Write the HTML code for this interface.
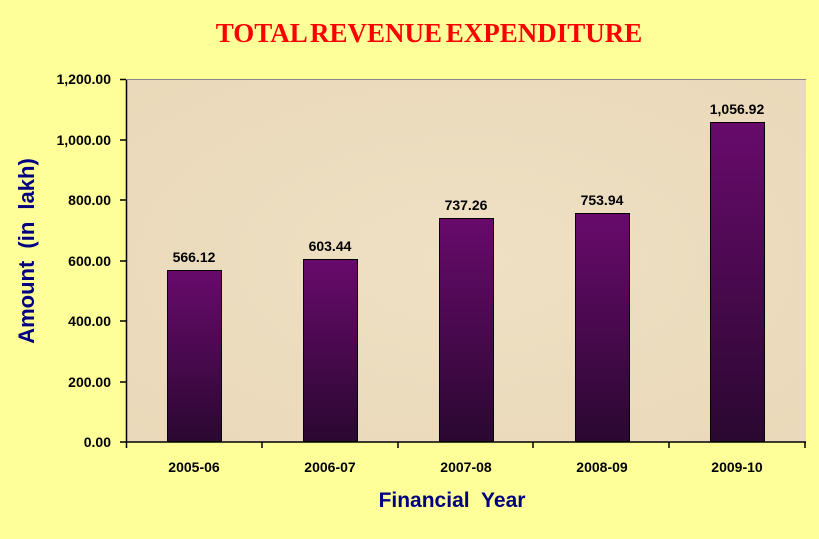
<!DOCTYPE html>
<html><head><meta charset="utf-8"><style>
body{margin:0;background:#ffff99;}
</style></head><body>
<svg width="819" height="539" xmlns="http://www.w3.org/2000/svg" style="display:block">
<defs>
<linearGradient id="g" x1="0" y1="0" x2="0" y2="1">
<stop offset="0" stop-color="#680a6c"/><stop offset="1" stop-color="#2a0830"/>
</linearGradient>
<radialGradient id="p" cx="0.5" cy="0.5" r="0.8">
<stop offset="0" stop-color="#efe0c4"/><stop offset="1" stop-color="#e9d8b8"/>
</radialGradient>
</defs>
<rect width="819" height="539" fill="#ffff99"/>
<text x="429" y="42" text-anchor="middle" font-family="Liberation Serif" font-weight="bold" font-size="27" word-spacing="-3" fill="#ff0000">TOTAL REVENUE EXPENDITURE</text>
<rect x="126" y="79" width="680" height="363" fill="url(#p)"/>
<g font-family="Liberation Sans" font-weight="bold" font-size="14" fill="#000" text-anchor="end">
<text x="111" y="84">1,200.00</text>
<text x="111" y="145">1,000.00</text>
<text x="111" y="205">800.00</text>
<text x="111" y="266">600.00</text>
<text x="111" y="326">400.00</text>
<text x="111" y="387">200.00</text>
<text x="111" y="447">0.00</text>
</g>
<g stroke="#000" stroke-width="1.5">
<line x1="126.5" y1="79" x2="126.5" y2="442"/>
<line x1="126" y1="442" x2="806" y2="442"/>
<line x1="120" y1="79.5" x2="126" y2="79.5"/>
<line x1="120" y1="140" x2="126" y2="140"/>
<line x1="120" y1="200" x2="126" y2="200"/>
<line x1="120" y1="261" x2="126" y2="261"/>
<line x1="120" y1="321" x2="126" y2="321"/>
<line x1="120" y1="382" x2="126" y2="382"/>
<line x1="120" y1="442" x2="126" y2="442"/>
<line x1="126.5" y1="442" x2="126.5" y2="448"/>
<line x1="262" y1="442" x2="262" y2="448"/>
<line x1="398" y1="442" x2="398" y2="448"/>
<line x1="533" y1="442" x2="533" y2="448"/>
<line x1="669" y1="442" x2="669" y2="448"/>
<line x1="805" y1="442" x2="805" y2="448"/>
</g>
<line x1="126" y1="79.5" x2="806" y2="79.5" stroke="#888" stroke-width="1"/>
<g fill="url(#g)" stroke="#000" stroke-width="1">
<rect x="167.5" y="270.5" width="54" height="171"/>
<rect x="303.5" y="259.5" width="54" height="182"/>
<rect x="439.5" y="218.5" width="54" height="223"/>
<rect x="575.5" y="213.5" width="54" height="228"/>
<rect x="710.5" y="122.5" width="54" height="319"/>
</g>
<g font-family="Liberation Sans" font-weight="bold" font-size="14" fill="#000" text-anchor="middle">
<text x="194" y="262">566.12</text>
<text x="330" y="251">603.44</text>
<text x="466" y="210">737.26</text>
<text x="602" y="205">753.94</text>
<text x="737" y="114">1,056.92</text>
</g>
<g font-family="Liberation Sans" font-weight="bold" font-size="14" fill="#000" text-anchor="middle">
<text x="194" y="472">2005-06</text>
<text x="330" y="472">2006-07</text>
<text x="466" y="472">2007-08</text>
<text x="602" y="472">2008-09</text>
<text x="737" y="472">2009-10</text>
</g>
<text x="452" y="507" text-anchor="middle" font-family="Liberation Sans" font-weight="bold" font-size="21" word-spacing="6" fill="#000080">Financial Year</text>
<text transform="translate(34,251) rotate(-90)" text-anchor="middle" font-family="Liberation Sans" font-weight="bold" font-size="22" word-spacing="6" fill="#000080">Amount (in lakh)</text>
</svg>
</body></html>
